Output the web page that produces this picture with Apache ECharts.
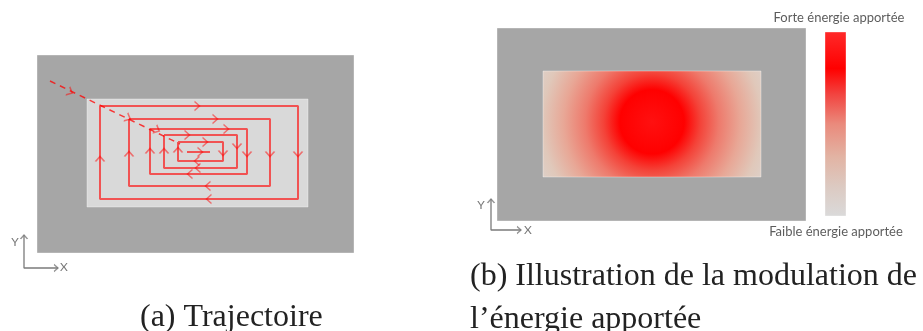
<!DOCTYPE html>
<html>
<head>
<meta charset="utf-8">
<script src="https://cdn.jsdelivr.net/npm/echarts@6/dist/echarts.min.js"></script>
<style>
  html, body { margin: 0; padding: 0; background: #fff; }
  #chart { width: 923px; height: 331px; }
</style>
</head>
<body>
<div id="chart"></div>
<script>
// panel (a): plate, heated zone, scan path (units = px from grid origin, y up)
const plateA = [[27, 27, 344, 225], [77, 73, 298, 181]];
const spiralRects = [
  [90, 81, 288, 174],
  [119, 94, 260, 161],
  [140, 106, 237, 151],
  [154, 112, 227, 145],
  [168, 119, 213, 138],
];
const centerStroke = [[177, 128], [200, 128]];
const entryPath = [[40, 199], [170, 136]];
const arrowsRight = [[187, 174], [205, 161], [216, 151], [177, 145], [195, 138], [190, 128]];
const arrowsDown = [[288, 126], [260, 126], [237, 126], [227, 134], [213, 127]];
const arrowsLeft = [[199, 81], [198, 94], [180, 106], [188, 112], [187, 119]];
const arrowsUp = [[90, 121], [119, 126], [140, 129], [154, 129], [168, 130]];
const arrowsEntry = [[60, 188], [118, 162], [147, 150]];
const axesA = [[14, 45], [14, 12], [48, 12]];
const axisLabelsA = [['Y', 5, 38], ['X', 54, 13]];

// panel (b): plate, energy map, colour scale
const plateB = [[27, 19, 336, 212], [73, 63, 291, 169], [355, 24, 376, 208]];
const axesB = [[21, 41], [21, 10], [51, 10]];
const axisLabelsB = [['Y', 11, 35], ['X', 58, 10]];
const scaleLabels = [['Forte énergie apportée', 369, 222], ['Faible énergie apportée', 366, 8]];

const captionA = '(a) Trajectoire';
const captionB = '(b) Illustration de la modulation de\nl\u2019énergie apportée';

const red = 'rgba(255, 0, 0, 0.62)';
const axisGray = '#7b7b7b';

const energyFill = new echarts.graphic.RadialGradient(0.5, 0.48, 1.25, [
  { offset: 0, color: '#ff1010' },
  { offset: 0.24, color: '#ff0000' },
  { offset: 0.36, color: '#f44238' },
  { offset: 0.5, color: '#ee7a6c' },
  { offset: 0.66, color: '#e8a796' },
  { offset: 0.82, color: '#e0c8ba' },
  { offset: 1, color: '#dbd6d3' },
]);
const scaleFill = new echarts.graphic.LinearGradient(0, 0, 0, 1, [
  { offset: 0, color: '#ff2a2a' },
  { offset: 0.2, color: '#ff0000' },
  { offset: 0.34, color: '#f24440' },
  { offset: 0.5, color: '#ea8a7c' },
  { offset: 0.68, color: '#e2b4a4' },
  { offset: 0.84, color: '#dccac2' },
  { offset: 1, color: '#dadada' },
]);

const rectRenderer = (fills) => (params, api) => {
  const p0 = api.coord([api.value(0), api.value(3)]);
  const p1 = api.coord([api.value(2), api.value(1)]);
  return {
    type: 'rect',
    shape: { x: p0[0], y: p0[1], width: p1[0] - p0[0], height: p1[1] - p0[1] },
    style: { fill: fills[params.dataIndex], stroke: 'rgba(255,255,255,0.35)', lineWidth: 1 },
  };
};

const chevron = 'path://M0,0L10,9L0,18';
const arrowSeries = (data, rotate) => ({
  type: 'scatter',
  xAxisIndex: 0,
  yAxisIndex: 0,
  data,
  symbol: chevron,
  symbolSize: [5, 9],
  symbolRotate: rotate,
  itemStyle: { color: 'rgba(0,0,0,0)', borderColor: red, borderWidth: 1.4 },
  silent: true,
  z: 5,
});

const textSeries = (items, axisIdx, style) => ({
  type: 'scatter',
  xAxisIndex: axisIdx,
  yAxisIndex: axisIdx,
  symbolSize: 0,
  data: items.map((d) => ({ name: d[0], value: [d[1], d[2]] })),
  label: { show: true, position: 'inside', formatter: '{b}', ...style },
  silent: true,
  z: 6,
});

const series = [];
series.push({
  type: 'custom', xAxisIndex: 0, yAxisIndex: 0, data: plateA,
  renderItem: rectRenderer(['#a6a6a6', '#d9d9d9']), z: 1,
});
series.push({
  type: 'custom', xAxisIndex: 1, yAxisIndex: 1, data: plateB,
  renderItem: rectRenderer(['#a6a6a6', energyFill, scaleFill]), z: 1,
});
spiralRects.forEach((r) => {
  series.push({
    type: 'line', xAxisIndex: 0, yAxisIndex: 0,
    data: [[r[0], r[3]], [r[2], r[3]], [r[2], r[1]], [r[0], r[1]], [r[0], r[3]]],
    symbol: 'none', lineStyle: { color: red, width: 2 }, silent: true, z: 3,
  });
});
series.push({
  type: 'line', xAxisIndex: 0, yAxisIndex: 0, data: centerStroke,
  symbol: 'none', lineStyle: { color: red, width: 2 }, silent: true, z: 3,
});
series.push({
  type: 'line', xAxisIndex: 0, yAxisIndex: 0, data: entryPath,
  symbol: 'none', lineStyle: { color: 'rgba(255,0,0,0.75)', width: 1.5, type: [6, 5] }, silent: true, z: 4,
});
series.push(arrowSeries(arrowsRight, 0));
series.push(arrowSeries(arrowsDown, -90));
series.push(arrowSeries(arrowsLeft, 180));
series.push(arrowSeries(arrowsUp, 90));
series.push(arrowSeries(arrowsEntry, -26));

[[axesA, 0], [axesB, 1]].forEach(([pts, idx]) => {
  series.push({
    type: 'line', xAxisIndex: idx, yAxisIndex: idx, data: pts,
    symbol: 'none', lineStyle: { color: axisGray, width: 1.3 }, silent: true, clip: false, z: 3,
  });
  [[pts[0], 90], [pts[2], 0]].forEach(([p, rot]) => {
    series.push({
      type: 'scatter', xAxisIndex: idx, yAxisIndex: idx, data: [p],
      symbol: chevron, symbolSize: [4, 7], symbolRotate: rot, symbolOffset: rot ? [0, 2] : [-2, 0],
      itemStyle: { color: 'rgba(0,0,0,0)', borderColor: axisGray, borderWidth: 1.2 },
      silent: true, clip: false, z: 4,
    });
  });
});

const sans = { fontFamily: 'Lato', fontSize: 12, color: '#555' };
series.push(textSeries(axisLabelsA, 0, sans));
series.push(textSeries(axisLabelsB, 1, sans));
series.push(textSeries(scaleLabels, 1, { fontFamily: 'Lato', fontSize: 13, color: '#333' }));

const hiddenAxis = (gridIndex, max) => ({
  type: 'value', gridIndex, min: 0, max, show: false,
});

const serif = { fontFamily: 'Liberation Serif', fontSize: 32, fontWeight: 'normal', color: '#222', lineHeight: 43 };

const option = {
  animation: false,
  backgroundColor: '#fff',
  title: [
    { text: captionA, left: 140, top: 300, padding: 0, textStyle: { ...serif, lineHeight: 36 } },
    { text: captionB, left: 470, top: 255, padding: 0, textStyle: serif },
  ],
  grid: [
    { left: 10, top: 40, width: 350, height: 240 },
    { left: 470, top: 0, width: 440, height: 240 },
  ],
  xAxis: [hiddenAxis(0, 350), hiddenAxis(1, 440)],
  yAxis: [hiddenAxis(0, 240), hiddenAxis(1, 240)],
  series,
};

const myChart = echarts.init(document.getElementById('chart'));
myChart.setOption(option);
</script>
</body>
</html>
